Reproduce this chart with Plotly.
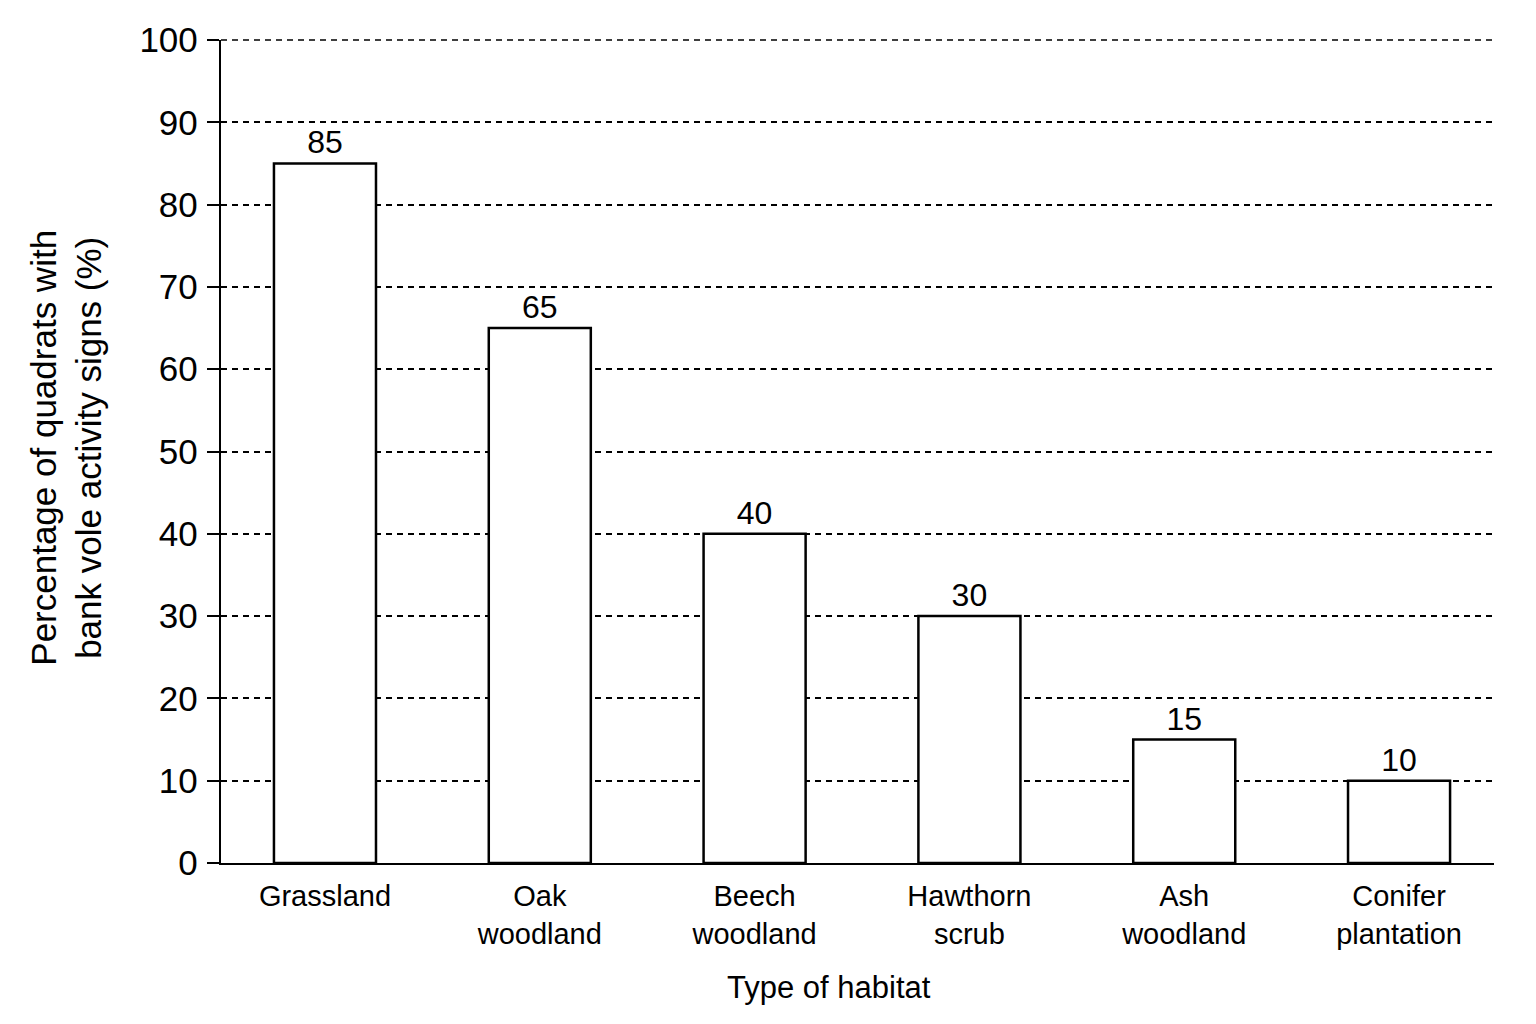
import plotly.graph_objects as go

categories = ["Grassland", "Oak<br>woodland", "Beech<br>woodland", "Hawthorn<br>scrub", "Ash<br>woodland", "Conifer<br>plantation"]
values = [85, 65, 40, 30, 15, 10]
y_ticks = [0, 10, 20, 30, 40, 50, 60, 70, 80, 90, 100]

FONT = "Liberation Sans, Arial, sans-serif"

fig = go.Figure()
fig.add_trace(go.Bar(
    x=categories, y=values,
    marker=dict(color="white", line=dict(color="black", width=2.5)),
    width=0.475,
    text=[str(v) for v in values],
    textposition="outside",
    textfont=dict(family=FONT, size=32, color="black"),
    cliponaxis=False,
))

fig.update_layout(
    width=1536, height=1024,
    margin=dict(l=213, r=50, t=32, b=169),
    paper_bgcolor="white", plot_bgcolor="white",
    showlegend=False,
    font=dict(family=FONT, color="black"),
    xaxis=dict(
        range=[-0.484, 5.442],
        showline=True, linecolor="black", linewidth=2.4,
        ticks="", showgrid=False,
        tickfont=dict(family=FONT, size=29, color="black"),
        ticklabelstandoff=6,
    ),
    yaxis=dict(
        range=[y_ticks[0], y_ticks[-1]],
        tickvals=y_ticks,
        showline=True, linecolor="black", linewidth=2.4,
        ticks="outside", ticklen=12, tickwidth=2.2, tickcolor="black",
        showgrid=True, gridcolor="black", gridwidth=1.5, griddash="6px,5px",
        zeroline=False,
        tickfont=dict(family=FONT, size=35, color="black"),
        ticklabelstandoff=2,
    ),
    shapes=[dict(
        # top gridline at the upper end of the y range (plotly skips the edge gridline)
        type="line", xref="paper", yref="paper", x0=0, x1=1, y0=1, y1=1,
        line=dict(color="black", width=1.5, dash="6px,5px"), layer="below",
    )],
    annotations=[
        dict(
            text="Type of habitat", xref="paper", yref="paper",
            x=0.4776, y=-0.1507, xanchor="center", yanchor="middle",
            showarrow=False, font=dict(family=FONT, size=31, color="black"),
        ),
        dict(
            text="Percentage of quadrats with<br>bank vole activity signs (%)",
            xref="paper", yref="paper", x=-0.1215, y=0.505,
            xanchor="center", yanchor="middle", textangle=-90,
            showarrow=False, font=dict(family=FONT, size=35, color="black"),
        ),
    ],
)

fig.write_html("out.html")
